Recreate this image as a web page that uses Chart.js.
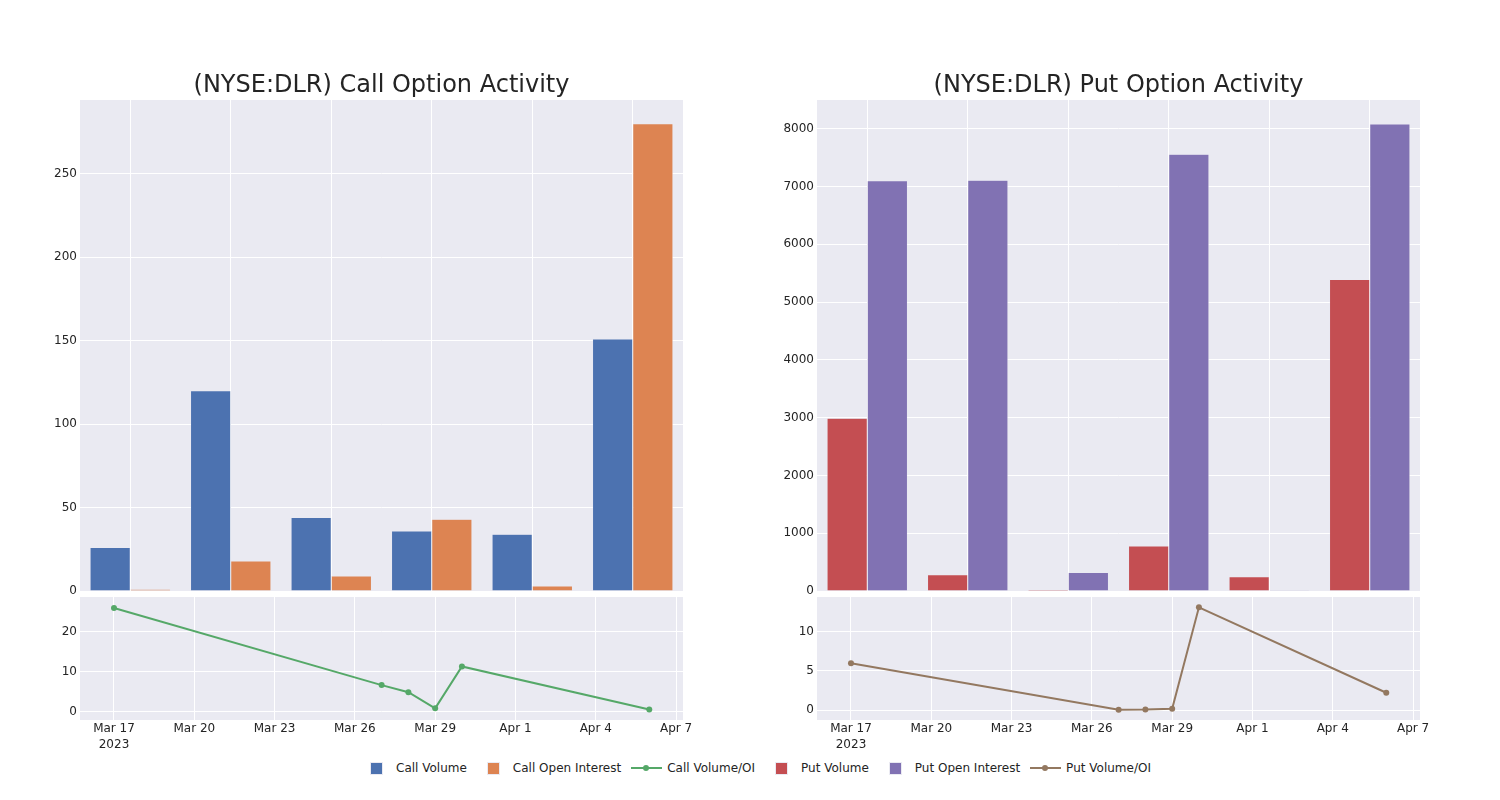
<!DOCTYPE html>
<html>
<head>
<meta charset="utf-8">
<script src="https://cdn.jsdelivr.net/npm/chart.js@4.4.0/dist/chart.umd.min.js"></script>
<style>
  body { margin: 0; background: #fff; width: 1500px; height: 800px; position: relative; overflow: hidden; font-family: "DejaVu Sans", sans-serif; }
  canvas { position: absolute; }
  #legend { position: absolute; left: 356px; top: 760px; height: 16px; display: flex; align-items: center; font-size: 12px; color: #242424; white-space: nowrap; }
  .item { display: flex; align-items: center; margin-right: 6px; }
  .sym { position: relative; width: 40px; height: 16px; }
  .sq { position: absolute; left: 14px; top: 2px; width: 11px; height: 11px; border: 0.5px solid #EAEAF2; }
  .ln { position: absolute; left: 4px; top: 7px; width: 31px; height: 2px; }
  .dot { position: absolute; left: 16px; top: 5px; width: 6px; height: 6px; border-radius: 50%; }
</style>
</head>
<body>
<canvas id="callBars" width="700" height="540" style="left:0px;top:60px"></canvas>
<canvas id="putBars" width="700" height="540" style="left:737px;top:60px"></canvas>
<canvas id="callRatio" width="700" height="170" style="left:0px;top:590px"></canvas>
<canvas id="putRatio" width="700" height="170" style="left:737px;top:590px"></canvas>
<div id="legend"></div>
<script>
// data
const dates = ["2023-03-17", "2023-03-27", "2023-03-28", "2023-03-29", "2023-03-30", "2023-04-06"];
const callVolume = [26, 120, 44, 36, 34, 151];
const callOpenInterest = [1, 18, 9, 43, 3, 280];
const callVolOI = [26, 6.67, 4.89, 0.84, 11.33, 0.54];
const putVolume = [2990, 280, 25, 777, 245, 5390];
const putOpenInterest = [7100, 7110, 320, 7560, 15, 8080];
const putVolOI = [6.0, 0.04, 0.06, 0.17, 13.15, 2.21];

const callBarTicks = [0, 50, 100, 150, 200, 250];
const putBarTicks = [0, 1000, 2000, 3000, 4000, 5000, 6000, 7000, 8000];
const callRatioTicks = [0, 10, 20];
const putRatioTicks = [0, 5, 10];
const dateTicks = ["2023-03-17", "2023-03-20", "2023-03-23", "2023-03-26", "2023-03-29", "2023-04-01", "2023-04-04", "2023-04-07"];

const colors = {
    callVolume: "#4C72B0",
    callOI: "#DD8452",
    callRatio: "#55A868",
    putVolume: "#C44E52",
    putOI: "#8172B3",
    putRatio: "#937860",
};

const MONTHS = ["Jan", "Feb", "Mar", "Apr", "May", "Jun", "Jul", "Aug", "Sep", "Oct", "Nov", "Dec"];
const DAY = 86400000;
const t0 = Date.parse(dates[0]);
const dayOf = (d) => (Date.parse(d) - t0) / DAY;

Chart.defaults.font.family = "DejaVu Sans";
Chart.defaults.font.size = 12;
Chart.defaults.color = "#242424";

const plotBg = {
    id: "plotBg",
    beforeDraw(chart) {
        const { ctx, chartArea: a } = chart;
        ctx.save();
        ctx.fillStyle = "#EAEAF2";
        ctx.fillRect(a.left, a.top, a.width, a.height);
        ctx.restore();
    },
};

function yAxis(min, max, tickList) {
    return {
        min: min,
        max: max,
        afterFit(s) { s.width = 80; },
        afterBuildTicks(s) { s.ticks = tickList.map((v) => ({ value: v })); },
        grid: { color: "#ffffff", lineWidth: 1, drawTicks: false },
        border: { display: false },
        ticks: { padding: 3, font: { lineHeight: 0.5 }, callback: (v) => String(v) },
    };
}

function barChart(id, title, labelA, dataA, colA, labelB, dataB, colB, ymax, tickList) {
    return new Chart(document.getElementById(id), {
        type: "bar",
        data: {
            labels: dates,
            datasets: [
                { label: labelA, data: dataA, backgroundColor: colA, borderColor: "rgba(234,234,242,0.8)", borderWidth: 0.5 },
                { label: labelB, data: dataB, backgroundColor: colB, borderColor: "rgba(234,234,242,0.8)", borderWidth: 0.5 },
            ],
        },
        options: {
            responsive: false,
            animation: false,
            datasets: { bar: { categoryPercentage: 0.8, barPercentage: 1.0 } },
            layout: { padding: { top: 0, right: 17, bottom: 0, left: 0 } },
            plugins: {
                legend: { display: false },
                tooltip: { enabled: false },
                title: {
                    display: true,
                    text: title,
                    fullSize: false,
                    color: "#242424",
                    font: { size: 24, weight: "normal", lineHeight: 1.1875 },
                    padding: { top: 11.5, bottom: 0 },
                },
            },
            scales: {
                x: {
                    afterFit(s) { s.height = 9; },
                    ticks: { display: false },
                    grid: { color: "#ffffff", offset: false, drawTicks: false },
                    border: { display: false },
                },
                y: yAxis(0, ymax, tickList),
            },
        },
        plugins: [plotBg],
    });
}

function ratioChart(id, label, values, col, ymin, ymax, tickList) {
    return new Chart(document.getElementById(id), {
        type: "line",
        data: {
            datasets: [{
                label: label,
                data: dates.map((d, i) => ({ x: dayOf(d), y: values[i] })),
                borderColor: col,
                backgroundColor: col,
                borderWidth: 2,
                pointRadius: 3,
                pointBorderWidth: 0,
                tension: 0,
            }],
        },
        options: {
            responsive: false,
            animation: false,
            layout: { padding: { top: 7, right: 17, bottom: 0, left: 0 } },
            plugins: { legend: { display: false }, tooltip: { enabled: false } },
            scales: {
                x: {
                    type: "linear",
                    min: -1.27,
                    max: 21.26,
                    afterFit(s) { s.height = 40; },
                    afterBuildTicks(s) { s.ticks = dateTicks.map((d) => ({ value: dayOf(d) })); },
                    grid: { color: "#ffffff", drawTicks: false },
                    border: { display: false },
                    ticks: {
                        padding: 1,
                        maxRotation: 0,
                        autoSkip: false,
                        font: { lineHeight: 16 / 12 },
                        callback(v, i) {
                            const d = new Date(t0 + v * DAY);
                            const txt = MONTHS[d.getUTCMonth()] + " " + d.getUTCDate();
                            return i === 0 ? [txt, String(d.getUTCFullYear())] : txt;
                        },
                    },
                },
                y: yAxis(ymin, ymax, tickList),
            },
        },
        plugins: [plotBg],
    });
}

barChart("callBars", "(NYSE:DLR) Call Option Activity",
    "Call Volume", callVolume, colors.callVolume,
    "Call Open Interest", callOpenInterest, colors.callOI, 294.3, callBarTicks);
barChart("putBars", "(NYSE:DLR) Put Option Activity",
    "Put Volume", putVolume, colors.putVolume,
    "Put Open Interest", putOpenInterest, colors.putOI, 8497, putBarTicks);
ratioChart("callRatio", "Call Volume/OI", callVolOI, colors.callRatio, -2.08, 28.75, callRatioTicks);
ratioChart("putRatio", "Put Volume/OI", putVolOI, colors.putRatio, -1.28, 14.47, putRatioTicks);

// shared legend
const legendItems = [
    ["Call Volume", colors.callVolume, "bar"],
    ["Call Open Interest", colors.callOI, "bar"],
    ["Call Volume/OI", colors.callRatio, "line"],
    ["Put Volume", colors.putVolume, "bar"],
    ["Put Open Interest", colors.putOI, "bar"],
    ["Put Volume/OI", colors.putRatio, "line"],
];
const legend = document.getElementById("legend");
legendItems.forEach(([name, col, kind]) => {
    const item = document.createElement("div");
    item.className = "item";
    const sym = document.createElement("div");
    sym.className = "sym";
    if (kind === "bar") {
        sym.innerHTML = '<div class="sq" style="background:' + col + '"></div>';
    } else {
        sym.innerHTML = '<div class="ln" style="background:' + col + '"></div><div class="dot" style="background:' + col + '"></div>';
    }
    const txt = document.createElement("span");
    txt.textContent = name;
    item.appendChild(sym);
    item.appendChild(txt);
    legend.appendChild(item);
});
</script>
</body>
</html>
